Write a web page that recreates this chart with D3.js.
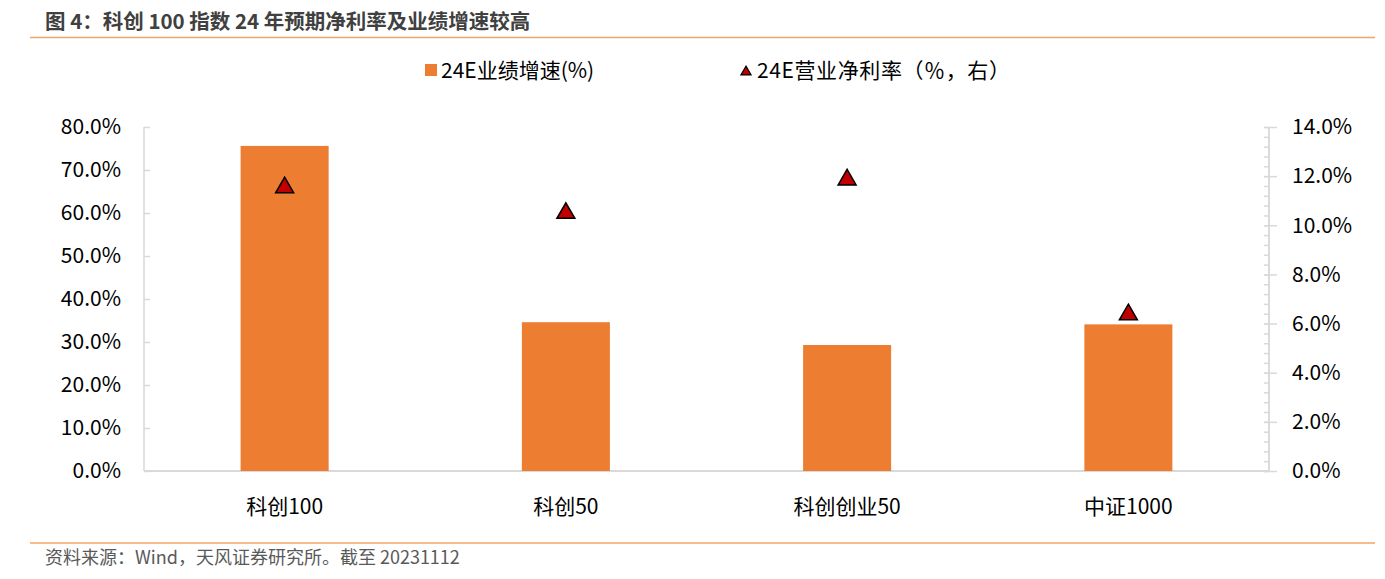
<!DOCTYPE html>
<html>
<head>
<meta charset="utf-8">
<script src="https://cdn.jsdelivr.net/npm/d3@7"></script>
<style>
	body { margin: 0; background: #fff; }
	text { font-family: "Noto Sans CJK SC", "Noto Sans", sans-serif; }
</style>
</head>
<body>
<svg id="chart" width="1385" height="579"></svg>
<script>
// data
let categories = ["科创100", "科创50", "科创创业50", "中证1000"];
let growthValues = [75.6, 34.6, 29.3, 34.1];      // 24E业绩增速(%), left axis
let marginValues = [11.64, 10.60, 11.96, 6.47];   // 24E营业净利率(%), right axis
let leftTicks = [0, 10, 20, 30, 40, 50, 60, 70, 80];
let rightTicks = [0, 2, 4, 6, 8, 10, 12, 14];
let seriesNames = ["24E业绩增速(%)", "24E营业净利率（％，右）"];

let svg = d3.select("#chart");
let plotLeft = 144, plotRight = 1269, plotTop = 127, plotBottom = 471;

let x = d3.scaleBand()
	.domain(categories)
	.range([plotLeft, plotRight])
	.paddingInner(0.687)
	.paddingOuter(0.3435);

let yLeft = d3.scaleLinear()
	.domain([0, 80])
	.range([plotBottom, plotTop]);

let yRight = d3.scaleLinear()
	.domain([0, 14])
	.range([plotBottom, plotTop]);

// Title and rules
svg.append("text")
	.attr("x", 45)
	.attr("y", 29)
	.attr("fill", "#404040")
	.style("font-size", "20.5px")
	.style("font-weight", "bold")
	.text("图 4：科创 100 指数 24 年预期净利率及业绩增速较高");

svg.append("line")
	.attr("x1", 30).attr("x2", 1375)
	.attr("y1", 37.5).attr("y2", 37.5)
	.attr("stroke", "#f4a466")
	.attr("stroke-width", 1.5);

svg.append("line")
	.attr("x1", 30).attr("x2", 1375)
	.attr("y1", 543).attr("y2", 543)
	.attr("stroke", "#f4a466")
	.attr("stroke-width", 1.5);

svg.append("text")
	.attr("x", 45)
	.attr("y", 564)
	.attr("fill", "#595959")
	.style("font-size", "18px")
	.text("资料来源：Wind，天风证券研究所。截至 20231112");

// Axes
let axisColor = "#d9d9d9";

svg.append("g")
	.attr("class", "left-axis")
	.attr("transform", "translate(" + plotLeft + ",0)")
	.call(d3.axisRight(yLeft).tickValues(leftTicks).tickSize(6).tickFormat(""));

svg.append("g")
	.attr("class", "right-minor")
	.attr("transform", "translate(" + plotRight + ",0)")
	.call(d3.axisLeft(yRight).tickValues(d3.range(0, 14.01, 0.4)).tickSize(5).tickFormat(""));

let rightAxis = svg.append("g")
	.attr("class", "right-axis")
	.attr("transform", "translate(" + plotRight + ",0)")
	.call(d3.axisRight(yRight).tickValues(rightTicks).tickSize(8).tickFormat(""));

rightAxis.selectAll(".tick line").attr("x1", -5);

svg.selectAll(".domain, .tick line")
	.attr("stroke", axisColor)
	.attr("stroke-width", 1.5);
svg.selectAll(".domain").attr("d", "M0," + plotTop + "V" + plotBottom);

svg.append("line")
	.attr("x1", plotLeft).attr("x2", plotRight)
	.attr("y1", plotBottom).attr("y2", plotBottom)
	.attr("stroke", axisColor)
	.attr("stroke-width", 2);

// tick labels
svg.append("g")
	.selectAll("text")
	.data(leftTicks)
	.enter().append("text")
	.attr("x", plotLeft - 23)
	.attr("y", function(d) { return yLeft(d); })
	.attr("dy", "0.35em")
	.attr("text-anchor", "end")
	.attr("fill", "#000")
	.style("font-size", "21px")
	.text(function(d) { return d.toFixed(1) + "%"; });

svg.append("g")
	.selectAll("text")
	.data(rightTicks)
	.enter().append("text")
	.attr("x", plotRight + 23)
	.attr("y", function(d) { return yRight(d); })
	.attr("dy", "0.35em")
	.attr("text-anchor", "start")
	.attr("fill", "#000")
	.style("font-size", "21px")
	.text(function(d) { return d.toFixed(1) + "%"; });

svg.append("g")
	.selectAll("text")
	.data(categories)
	.enter().append("text")
	.attr("x", function(d) { return x(d) + x.bandwidth()/2; })
	.attr("y", 507)
	.attr("dy", "0.35em")
	.attr("text-anchor", "middle")
	.attr("fill", "#000")
	.style("font-size", "21px")
	.text(function(d) { return d; });

// Bars
svg.append("g")
	.selectAll("rect")
	.data(growthValues)
	.enter().append("rect")
	.attr("x", function(d, i) { return x(categories[i]); })
	.attr("y", function(d) { return yLeft(d); })
	.attr("width", x.bandwidth())
	.attr("height", function(d) { return plotBottom - yLeft(d); })
	.attr("fill", "#ed7d31");

// Triangle markers (centred on bounding box like the original)
let triSize = 140;
let triY = Math.sqrt(triSize / (Math.sqrt(3) * 3));

svg.append("g")
	.selectAll("path")
	.data(marginValues)
	.enter().append("path")
	.attr("d", d3.symbol().type(d3.symbolTriangle).size(triSize))
	.attr("transform", function(d, i) {
		return "translate(" + (x(categories[i]) + x.bandwidth()/2) + "," + (yRight(d) + triY/2) + ")";
	})
	.attr("fill", "#c00000")
	.attr("stroke", "#000")
	.attr("stroke-width", 1.5);

// Legend
let legend = svg.append("g");

legend.append("rect")
	.attr("x", 425).attr("y", 64)
	.attr("width", 12).attr("height", 12)
	.attr("fill", "#ed7d31");

legend.append("text")
	.attr("x", 441).attr("y", 71)
	.attr("dy", "0.35em")
	.attr("fill", "#000")
	.style("font-size", "21px")
	.text(seriesNames[0]);

legend.append("path")
	.attr("d", d3.symbol().type(d3.symbolTriangle).size(45))
	.attr("transform", "translate(746,72)")
	.attr("fill", "#c00000")
	.attr("stroke", "#000")
	.attr("stroke-width", 1.2);

legend.append("text")
	.attr("x", 757).attr("y", 71)
	.attr("dy", "0.35em")
	.attr("fill", "#000")
	.style("font-size", "21px")
	.style("letter-spacing", "0.6px")
	.text(seriesNames[1]);
</script>
</body>
</html>
